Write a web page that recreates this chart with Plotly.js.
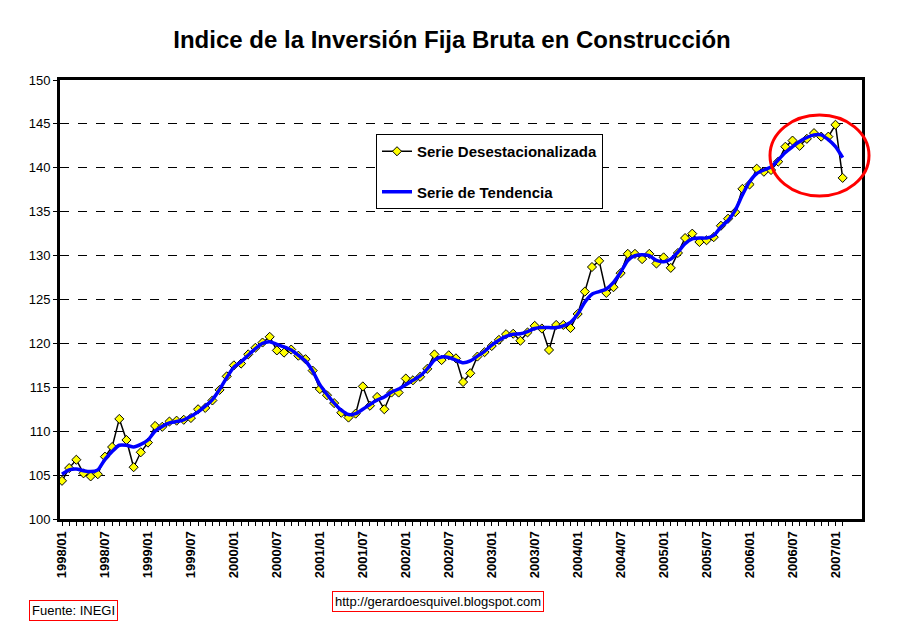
<!DOCTYPE html>
<html>
<head>
<meta charset="utf-8">
<script src="https://cdn.plot.ly/plotly-3.0.1.min.js"></script>
<style>html,body{margin:0;padding:0;background:#fff;}#chart{width:904px;height:626px;}</style>
</head>
<body>
<div id="chart"></div>
<script>
// Monthly categories 1998/01 .. 2007/02
const startYear = 1998;
const nMonths = 110;
const months = [];
for (let i = 0; i < nMonths; i++) {
  const y = startYear + Math.floor(i / 12);
  const m = (i % 12) + 1;
  months.push(y + "/" + (m < 10 ? "0" + m : "" + m));
}

const desestacionalizada = [
  104.35,105.8,106.75,105.2,104.85,105.1,107.1,108.2,111.4,109.0,105.9,107.6,
  108.7,110.6,110.5,111.1,111.2,111.3,111.5,112.5,112.65,113.5,114.7,116.25,
  117.5,117.7,118.75,119.5,120.1,120.75,119.2,118.95,119.3,118.6,118.2,116.9,
  114.8,114.1,113.2,112.1,111.55,112.0,115.1,112.9,113.9,112.5,114.4,114.4,
  116.0,115.8,116.2,117.1,118.75,118.1,118.65,118.3,115.6,116.6,118.5,119.0,
  119.7,120.4,121.05,121.1,120.3,121.25,122.0,121.7,119.25,122.1,122.1,121.75,
  123.35,125.9,128.7,129.4,125.75,126.4,128.0,130.2,130.2,129.6,130.2,129.1,
  129.8,128.6,130.3,132.0,132.5,131.55,131.75,132.1,133.4,134.2,134.95,137.6,
  138.1,139.9,139.55,139.75,140.7,142.4,143.1,142.5,143.3,143.95,143.55,143.55,
  144.9,138.85
];

const tendencia = [
  105.1,105.6,105.7,105.5,105.4,105.6,106.8,107.7,108.4,108.4,108.2,108.5,
  109.0,110.0,110.55,110.95,111.1,111.3,111.7,112.2,112.85,113.6,114.75,116.1,
  117.3,117.9,118.65,119.4,120.0,120.2,119.9,119.6,119.25,118.65,118.0,116.85,
  115.3,114.2,113.2,112.4,111.9,112.0,112.5,113.05,113.55,113.9,114.45,114.8,
  115.3,115.8,116.3,117.1,118.1,118.45,118.4,118.1,117.8,118.0,118.55,119.1,
  119.8,120.35,120.8,121.05,121.1,121.35,121.7,121.8,121.8,121.8,122.0,122.4,
  123.35,124.7,125.6,125.9,126.2,126.95,128.1,129.45,130.0,130.1,130.0,129.45,
  129.3,129.6,130.4,131.35,131.9,132.0,132.0,132.3,133.25,134.0,135.15,136.9,
  138.4,139.35,139.75,140.1,140.9,141.75,142.4,143.0,143.45,143.75,143.75,143.2,
  142.4,141.15
];

const tickLabels = ["1998/01","1998/07","1999/01","1999/07","2000/01","2000/07",
  "2001/01","2001/07","2002/01","2002/07","2003/01","2003/07","2004/01","2004/07",
  "2005/01","2005/07","2006/01","2006/07","2007/01"];

const yTicks = [100,105,110,115,120,125,130,135,140,145,150];

const ticktext = months.map(m => tickLabels.indexOf(m) >= 0 ? m : "");

const FONT = "Arial, 'Liberation Sans', sans-serif";

const traces = [
  {
    x: months, y: desestacionalizada, type: "scatter", mode: "lines+markers",
    name: "Serie Desestacionalizada", legendgroup: "a",
    line: {color: "#000000", width: 1.5},
    marker: {symbol: "diamond", size: 7, color: "#ffff00", line: {color: "#000000", width: 1}}
  },
  {
    x: months, y: tendencia, type: "scatter", mode: "lines",
    name: "Serie de Tendencia", legendgroup: "b",
    line: {color: "#0000ff", width: 3.5, shape: "spline", smoothing: 0.6}
  }
];

const layout = {
  width: 904, height: 626,
  paper_bgcolor: "#ffffff", plot_bgcolor: "#ffffff",
  margin: {l: 60, r: 42, t: 80, b: 107},
  font: {family: FONT, color: "#000000", size: 13},
  title: {
    text: "Indice de la Inversión Fija Bruta en Construcción",
    font: {family: FONT, size: 24, weight: "bold", color: "#000"},
    xref: "container", x: 0.5, xanchor: "center",
    yref: "container", y: 1 - 40/626, yanchor: "middle"
  },
  xaxis: {
    type: "category",
    range: [-0.28, 111.7],
    tickmode: "array", tickvals: months, ticktext: ticktext,
    tickangle: -90,
    tickfont: {family: FONT, size: 13, weight: "bold"},
    ticks: "outside", ticklen: 4, tickwidth: 1, tickcolor: "#000",
    showgrid: false, zeroline: false,
    showline: true, linecolor: "#000", linewidth: 3, mirror: true
  },
  yaxis: {
    range: [100, 150],
    tickmode: "array", tickvals: yTicks,
    tickfont: {family: FONT, size: 13},
    ticks: "outside", ticklen: 4, tickwidth: 1, tickcolor: "#000",
    showgrid: true, gridcolor: "#000", gridwidth: 1, griddash: "dash",
    zeroline: false,
    showline: true, linecolor: "#000", linewidth: 3, mirror: true
  },
  legend: {
    x: (376 - 60) / 802, y: (519 - 134) / 439, xanchor: "left", yanchor: "top",
    bgcolor: "#ffffff", bordercolor: "#000", borderwidth: 1,
    font: {family: FONT, size: 15, weight: "bold"},
    tracegroupgap: 18, itemwidth: 30
  },
  shapes: [
    {type: "circle", xref: "paper", yref: "paper",
     x0: (770 - 60) / 802, x1: (869 - 60) / 802,
     y0: (519 - 196) / 439, y1: (519 - 115) / 439,
     line: {color: "#ff0000", width: 3}}
  ],
  annotations: [
    {text: "Fuente: INEGI", xref: "paper", yref: "paper",
     x: (29 - 60) / 802, y: (519 - 600) / 439, xanchor: "left", yanchor: "top",
     showarrow: false, font: {family: FONT, size: 13},
     bordercolor: "#ff0000", borderwidth: 1, borderpad: 2, bgcolor: "#fff"},
    {text: "http://gerardoesquivel.blogspot.com", xref: "paper", yref: "paper",
     x: (332 - 60) / 802, y: (519 - 591) / 439, xanchor: "left", yanchor: "top",
     showarrow: false, font: {family: FONT, size: 13},
     bordercolor: "#ff0000", borderwidth: 1, borderpad: 2, bgcolor: "#fff"}
  ],
  showlegend: true
};

Plotly.newPlot("chart", traces, layout, {displayModeBar: false, staticPlot: true});
</script>
</body>
</html>
